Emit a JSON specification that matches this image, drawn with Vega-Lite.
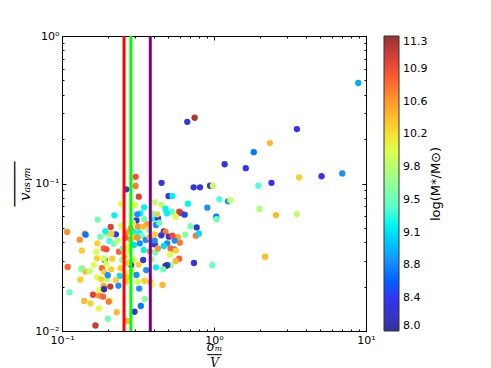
{
  "$schema": "https://vega.github.io/schema/vega-lite/v6.json",
  "width": 304,
  "height": 295,
  "autosize": "none",
  "padding": {"left": 62, "top": 36, "right": 125, "bottom": 37},
  "background": "white",
  "config": {
    "view": {"stroke": "black", "strokeWidth": 1},
    "axis": {"grid": false, "domainColor": "black", "tickColor": "black", "labelColor": "black", "titleColor": "black", "labelFont": "DejaVu Sans", "labelFontSize": 11, "labelOverlap": false, "labelFlush": false}
  },
  "datasets": {
    "pts": [
      {"ratio": 8.90, "vasym": 0.480, "logM": 8.9},
      {"ratio": 0.667, "vasym": 0.262, "logM": 8.3},
      {"ratio": 0.746, "vasym": 0.279, "logM": 11.2},
      {"ratio": 3.51, "vasym": 0.234, "logM": 8.4},
      {"ratio": 2.33, "vasym": 0.188, "logM": 10.4},
      {"ratio": 1.827, "vasym": 0.163, "logM": 8.7},
      {"ratio": 1.175, "vasym": 0.135, "logM": 8.3},
      {"ratio": 1.618, "vasym": 0.127, "logM": 8.4},
      {"ratio": 5.10, "vasym": 0.112, "logM": 8.4},
      {"ratio": 6.98, "vasym": 0.117, "logM": 8.8},
      {"ratio": 3.63, "vasym": 0.110, "logM": 10.3},
      {"ratio": 2.39, "vasym": 0.101, "logM": 8.4},
      {"ratio": 1.96, "vasym": 0.0966, "logM": 9.3},
      {"ratio": 0.452, "vasym": 0.101, "logM": 8.3},
      {"ratio": 0.735, "vasym": 0.0942, "logM": 8.3},
      {"ratio": 0.809, "vasym": 0.0942, "logM": 8.3},
      {"ratio": 0.942, "vasym": 0.0966, "logM": 8.1},
      {"ratio": 0.984, "vasym": 0.0966, "logM": 9.9},
      {"ratio": 0.305, "vasym": 0.111, "logM": 10.9},
      {"ratio": 0.305, "vasym": 0.0962, "logM": 10.7},
      {"ratio": 0.265, "vasym": 0.0913, "logM": 8.4},
      {"ratio": 0.320, "vasym": 0.0814, "logM": 11.0},
      {"ratio": 0.502, "vasym": 0.0822, "logM": 8.4},
      {"ratio": 0.533, "vasym": 0.0822, "logM": 9.2},
      {"ratio": 0.245, "vasym": 0.0730, "logM": 10.0},
      {"ratio": 0.301, "vasym": 0.0715, "logM": 10.1},
      {"ratio": 0.408, "vasym": 0.0745, "logM": 9.9},
      {"ratio": 0.452, "vasym": 0.0718, "logM": 9.9},
      {"ratio": 0.348, "vasym": 0.0689, "logM": 9.2},
      {"ratio": 0.480, "vasym": 0.0672, "logM": 9.2},
      {"ratio": 0.674, "vasym": 0.0730, "logM": 9.2},
      {"ratio": 1.084, "vasym": 0.0781, "logM": 9.3},
      {"ratio": 1.236, "vasym": 0.0757, "logM": 8.8},
      {"ratio": 1.282, "vasym": 0.0769, "logM": 9.9},
      {"ratio": 0.904, "vasym": 0.0686, "logM": 8.8},
      {"ratio": 0.590, "vasym": 0.0644, "logM": 10.9},
      {"ratio": 0.603, "vasym": 0.0631, "logM": 11.1},
      {"ratio": 0.641, "vasym": 0.0615, "logM": 8.5},
      {"ratio": 1.035, "vasym": 0.0596, "logM": 8.7},
      {"ratio": 1.04, "vasym": 0.0572, "logM": 9.5},
      {"ratio": 1.99, "vasym": 0.0672, "logM": 9.8},
      {"ratio": 2.56, "vasym": 0.0611, "logM": 10.4},
      {"ratio": 3.51, "vasym": 0.0621, "logM": 9.9},
      {"ratio": 2.17, "vasym": 0.0319, "logM": 10.4},
      {"ratio": 0.975, "vasym": 0.0279, "logM": 9.5},
      {"ratio": 0.738, "vasym": 0.0289, "logM": 8.3},
      {"ratio": 0.769, "vasym": 0.0504, "logM": 8.3},
      {"ratio": 0.760, "vasym": 0.0443, "logM": 10.7},
      {"ratio": 0.796, "vasym": 0.0457, "logM": 9.1},
      {"ratio": 0.702, "vasym": 0.0513, "logM": 9.5},
      {"ratio": 0.647, "vasym": 0.0450, "logM": 9.6},
      {"ratio": 0.597, "vasym": 0.0397, "logM": 10.7},
      {"ratio": 0.579, "vasym": 0.0432, "logM": 10.5},
      {"ratio": 0.547, "vasym": 0.0358, "logM": 8.8},
      {"ratio": 0.590, "vasym": 0.0309, "logM": 10.8},
      {"ratio": 0.561, "vasym": 0.0298, "logM": 10.4},
      {"ratio": 0.520, "vasym": 0.0280, "logM": 9.7},
      {"ratio": 0.492, "vasym": 0.0279, "logM": 8.3},
      {"ratio": 0.480, "vasym": 0.0276, "logM": 8.1},
      {"ratio": 0.463, "vasym": 0.0262, "logM": 9.5},
      {"ratio": 0.415, "vasym": 0.0270, "logM": 9.2},
      {"ratio": 0.459, "vasym": 0.0205, "logM": 10.4},
      {"ratio": 0.382, "vasym": 0.0215, "logM": 10.4},
      {"ratio": 0.390, "vasym": 0.0205, "logM": 10.0},
      {"ratio": 0.351, "vasym": 0.0165, "logM": 9.6},
      {"ratio": 0.330, "vasym": 0.0148, "logM": 8.7},
      {"ratio": 0.300, "vasym": 0.0135, "logM": 8.3},
      {"ratio": 0.271, "vasym": 0.0117, "logM": 10.4},
      {"ratio": 0.229, "vasym": 0.0134, "logM": 10.4},
      {"ratio": 0.200, "vasym": 0.0121, "logM": 9.5},
      {"ratio": 0.166, "vasym": 0.0109, "logM": 11.1},
      {"ratio": 0.175, "vasym": 0.0142, "logM": 10.1},
      {"ratio": 0.206, "vasym": 0.0161, "logM": 10.0},
      {"ratio": 0.140, "vasym": 0.0160, "logM": 10.4},
      {"ratio": 0.160, "vasym": 0.0176, "logM": 11.0},
      {"ratio": 0.175, "vasym": 0.0174, "logM": 10.6},
      {"ratio": 0.186, "vasym": 0.0171, "logM": 10.8},
      {"ratio": 0.176, "vasym": 0.0190, "logM": 10.0},
      {"ratio": 0.112, "vasym": 0.0183, "logM": 9.5},
      {"ratio": 0.109, "vasym": 0.0272, "logM": 10.8},
      {"ratio": 0.108, "vasym": 0.0469, "logM": 10.6},
      {"ratio": 0.131, "vasym": 0.0416, "logM": 10.6},
      {"ratio": 0.141, "vasym": 0.0457, "logM": 10.6},
      {"ratio": 0.143, "vasym": 0.0450, "logM": 8.7},
      {"ratio": 0.135, "vasym": 0.0351, "logM": 10.3},
      {"ratio": 0.134, "vasym": 0.0262, "logM": 9.8},
      {"ratio": 0.132, "vasym": 0.0223, "logM": 10.3},
      {"ratio": 0.1426, "vasym": 0.0253, "logM": 10.4},
      {"ratio": 0.172, "vasym": 0.0569, "logM": 9.5},
      {"ratio": 0.209, "vasym": 0.0507, "logM": 11.0},
      {"ratio": 0.221, "vasym": 0.0608, "logM": 9.2},
      {"ratio": 0.226, "vasym": 0.0452, "logM": 8.4},
      {"ratio": 0.245, "vasym": 0.0515, "logM": 10.0},
      {"ratio": 0.198, "vasym": 0.0455, "logM": 9.8},
      {"ratio": 0.211, "vasym": 0.0457, "logM": 10.3},
      {"ratio": 0.171, "vasym": 0.0393, "logM": 10.3},
      {"ratio": 0.188, "vasym": 0.0363, "logM": 10.8},
      {"ratio": 0.196, "vasym": 0.0358, "logM": 10.9},
      {"ratio": 0.205, "vasym": 0.0408, "logM": 9.3},
      {"ratio": 0.219, "vasym": 0.0391, "logM": 9.5},
      {"ratio": 0.168, "vasym": 0.0345, "logM": 10.0},
      {"ratio": 0.191, "vasym": 0.0303, "logM": 8.7},
      {"ratio": 0.170, "vasym": 0.0311, "logM": 10.3},
      {"ratio": 0.183, "vasym": 0.0267, "logM": 10.8},
      {"ratio": 0.196, "vasym": 0.0286, "logM": 10.0},
      {"ratio": 0.211, "vasym": 0.0262, "logM": 10.3},
      {"ratio": 0.170, "vasym": 0.0231, "logM": 10.0},
      {"ratio": 0.181, "vasym": 0.0225, "logM": 10.3},
      {"ratio": 0.188, "vasym": 0.0202, "logM": 10.5},
      {"ratio": 0.208, "vasym": 0.0200, "logM": 11.1},
      {"ratio": 0.189, "vasym": 0.0192, "logM": 8.1},
      {"ratio": 0.198, "vasym": 0.0224, "logM": 9.9},
      {"ratio": 0.235, "vasym": 0.0203, "logM": 8.8},
      {"ratio": 0.240, "vasym": 0.0236, "logM": 9.1},
      {"ratio": 0.243, "vasym": 0.0267, "logM": 10.3},
      {"ratio": 0.249, "vasym": 0.0303, "logM": 9.7},
      {"ratio": 0.237, "vasym": 0.0345, "logM": 10.8},
      {"ratio": 0.258, "vasym": 0.0319, "logM": 10.3},
      {"ratio": 0.271, "vasym": 0.0373, "logM": 10.0},
      {"ratio": 0.283, "vasym": 0.0418, "logM": 10.4},
      {"ratio": 0.294, "vasym": 0.0472, "logM": 9.2},
      {"ratio": 0.305, "vasym": 0.0436, "logM": 10.4},
      {"ratio": 0.316, "vasym": 0.0510, "logM": 10.6},
      {"ratio": 0.309, "vasym": 0.0562, "logM": 8.4},
      {"ratio": 0.328, "vasym": 0.0628, "logM": 9.2},
      {"ratio": 0.348, "vasym": 0.0572, "logM": 9.5},
      {"ratio": 0.313, "vasym": 0.0618, "logM": 8.8},
      {"ratio": 0.342, "vasym": 0.0510, "logM": 10.4},
      {"ratio": 0.363, "vasym": 0.0531, "logM": 10.5},
      {"ratio": 0.375, "vasym": 0.0484, "logM": 9.6},
      {"ratio": 0.394, "vasym": 0.0578, "logM": 9.2},
      {"ratio": 0.428, "vasym": 0.0581, "logM": 8.4},
      {"ratio": 0.415, "vasym": 0.0523, "logM": 8.8},
      {"ratio": 0.437, "vasym": 0.0542, "logM": 9.5},
      {"ratio": 0.468, "vasym": 0.0474, "logM": 8.0},
      {"ratio": 0.480, "vasym": 0.0469, "logM": 10.7},
      {"ratio": 0.450, "vasym": 0.0445, "logM": 8.3},
      {"ratio": 0.408, "vasym": 0.0452, "logM": 10.3},
      {"ratio": 0.394, "vasym": 0.0389, "logM": 8.8},
      {"ratio": 0.378, "vasym": 0.0347, "logM": 10.6},
      {"ratio": 0.410, "vasym": 0.0340, "logM": 9.5},
      {"ratio": 0.345, "vasym": 0.0354, "logM": 9.2},
      {"ratio": 0.325, "vasym": 0.0393, "logM": 8.8},
      {"ratio": 0.342, "vasym": 0.0303, "logM": 8.3},
      {"ratio": 0.319, "vasym": 0.0282, "logM": 10.3},
      {"ratio": 0.297, "vasym": 0.0303, "logM": 10.0},
      {"ratio": 0.285, "vasym": 0.0280, "logM": 8.4},
      {"ratio": 0.271, "vasym": 0.0288, "logM": 10.3},
      {"ratio": 0.258, "vasym": 0.0250, "logM": 10.0},
      {"ratio": 0.288, "vasym": 0.0253, "logM": 10.0},
      {"ratio": 0.316, "vasym": 0.0216, "logM": 10.0},
      {"ratio": 0.349, "vasym": 0.0219, "logM": 10.3},
      {"ratio": 0.322, "vasym": 0.0194, "logM": 8.8},
      {"ratio": 0.309, "vasym": 0.0240, "logM": 8.8},
      {"ratio": 0.272, "vasym": 0.0232, "logM": 10.3},
      {"ratio": 0.292, "vasym": 0.0542, "logM": 10.0},
      {"ratio": 0.265, "vasym": 0.0464, "logM": 10.6},
      {"ratio": 0.262, "vasym": 0.0428, "logM": 10.8},
      {"ratio": 0.283, "vasym": 0.0497, "logM": 10.6},
      {"ratio": 0.322, "vasym": 0.0464, "logM": 9.2},
      {"ratio": 0.335, "vasym": 0.0441, "logM": 9.5},
      {"ratio": 0.313, "vasym": 0.0428, "logM": 10.6},
      {"ratio": 0.356, "vasym": 0.0414, "logM": 8.8},
      {"ratio": 0.377, "vasym": 0.0432, "logM": 10.4},
      {"ratio": 0.297, "vasym": 0.0383, "logM": 9.1},
      {"ratio": 0.275, "vasym": 0.0349, "logM": 10.0},
      {"ratio": 0.251, "vasym": 0.0363, "logM": 9.5},
      {"ratio": 0.232, "vasym": 0.0410, "logM": 9.9},
      {"ratio": 0.188, "vasym": 0.0311, "logM": 10.0},
      {"ratio": 0.179, "vasym": 0.0436, "logM": 9.5},
      {"ratio": 0.193, "vasym": 0.0474, "logM": 9.2},
      {"ratio": 0.214, "vasym": 0.0309, "logM": 10.3},
      {"ratio": 0.162, "vasym": 0.0280, "logM": 10.0},
      {"ratio": 0.152, "vasym": 0.0254, "logM": 9.9},
      {"ratio": 0.135, "vasym": 0.0266, "logM": 9.6},
      {"ratio": 0.190, "vasym": 0.0251, "logM": 10.3},
      {"ratio": 0.200, "vasym": 0.0239, "logM": 8.8},
      {"ratio": 0.226, "vasym": 0.0222, "logM": 10.3},
      {"ratio": 0.263, "vasym": 0.0216, "logM": 10.3},
      {"ratio": 0.154, "vasym": 0.0154, "logM": 10.3},
      {"ratio": 0.203, "vasym": 0.0158, "logM": 10.7},
      {"ratio": 0.408, "vasym": 0.0387, "logM": 8.3},
      {"ratio": 0.358, "vasym": 0.0259, "logM": 8.8},
      {"ratio": 0.388, "vasym": 0.0306, "logM": 9.7},
      {"ratio": 0.505, "vasym": 0.0436, "logM": 8.3},
      {"ratio": 0.492, "vasym": 0.0393, "logM": 8.8},
      {"ratio": 0.551, "vasym": 0.0410, "logM": 8.8},
      {"ratio": 0.518, "vasym": 0.0363, "logM": 10.8},
      {"ratio": 0.561, "vasym": 0.0351, "logM": 10.3},
      {"ratio": 0.428, "vasym": 0.0363, "logM": 10.6},
      {"ratio": 0.407, "vasym": 0.0410, "logM": 8.8},
      {"ratio": 0.533, "vasym": 0.0443, "logM": 10.9},
      {"ratio": 0.468, "vasym": 0.0377, "logM": 9.1},
      {"ratio": 0.513, "vasym": 0.0330, "logM": 10.0},
      {"ratio": 0.531, "vasym": 0.0644, "logM": 9.5},
      {"ratio": 0.558, "vasym": 0.0596, "logM": 10.0},
      {"ratio": 0.490, "vasym": 0.0628, "logM": 9.2},
      {"ratio": 0.423, "vasym": 0.0618, "logM": 10.3},
      {"ratio": 0.394, "vasym": 0.0621, "logM": 9.5}
    ]
  },
  "layer": [
    {
      "data": {"name": "pts"},
      "mark": {"type": "circle", "size": 40, "opacity": 1},
      "encoding": {
        "x": {
          "field": "ratio", "type": "quantitative",
          "scale": {"type": "log", "domain": [0.1, 10], "nice": false},
          "axis": {
            "orient": "bottom",
            "values": [0.1,0.2,0.3,0.4,0.5,0.6,0.7,0.8,0.9,1,2,3,4,5,6,7,8,9,10],
            "labelExpr": "datum.value == 0.1 ? '10⁻¹' : datum.value == 1 ? '10⁰' : datum.value == 10 ? '10¹' : ''",
            "tickSize": {"condition": {"test": "datum.value == 0.1 || datum.value == 1 || datum.value == 10", "value": -4}, "value": -2},
            "labelPadding": 7,
            "title": ["σₘ", "──", "V"],
            "titleFont": "DejaVu Serif",
            "titleFontStyle": "italic",
            "titleFontWeight": "normal",
            "titleFontSize": 12,
            "titleLineHeight": 8,
            "titleBaseline": "top",
            "titleY": 10
          }
        },
        "y": {
          "field": "vasym", "type": "quantitative",
          "scale": {"type": "log", "domain": [0.01, 1], "nice": false},
          "axis": {
            "orient": "left",
            "values": [0.01,0.02,0.03,0.04,0.05,0.06,0.07,0.08,0.09,0.1,0.2,0.3,0.4,0.5,0.6,0.7,0.8,0.9,1],
            "labelExpr": "datum.value == 0.01 ? '10⁻²' : datum.value == 0.1 ? '10⁻¹' : datum.value == 1 ? '10⁰' : ''",
            "tickSize": {"condition": {"test": "datum.value == 0.01 || datum.value == 0.1 || datum.value == 1", "value": -4}, "value": -2},
            "labelPadding": 7,
            "title": ["─────", "vₐₛᵧₘ"],
            "titleFont": "DejaVu Serif",
            "titleFontStyle": "italic",
            "titleFontWeight": "normal",
            "titleFontSize": 15,
            "titleLineHeight": 10,
            "titlePadding": 2
          }
        },
        "color": {
          "field": "logM", "type": "quantitative",
          "scale": {
            "type": "linear",
            "domain": [8.04, 8.445, 8.85, 9.255, 9.66, 10.065, 10.47, 10.875, 11.28],
            "range": ["#333399", "#3333ff", "#3399ff", "#44ffe8", "#95ff95", "#e8ff44", "#ffac33", "#ff4d33", "#993333"],
            "clamp": true
          },
          "legend": {
            "orient": "none",
            "legendX": 322,
            "legendY": 0,
            "direction": "vertical",
            "gradientLength": 295,
            "gradientThickness": 15,
            "gradientStrokeColor": "#333333",
            "gradientStrokeWidth": 1,
            "values": [8.04, 8.4, 8.76, 9.12, 9.48, 9.84, 10.2, 10.56, 10.92, 11.28],
            "format": ".1f",
            "labelFont": "DejaVu Sans",
            "labelFontSize": 11,
            "labelColor": "black",
            "labelOffset": 4,
            "labelBaseline": "middle",
            "labelOverlap": false,
            "title": null
          }
        }
      }
    },
    {
      "data": {"values": [{"ratio": 0.256}]},
      "mark": {"type": "rule", "color": "#ff0000", "strokeWidth": 3},
      "encoding": {"x": {"field": "ratio", "type": "quantitative", "axis": null}}
    },
    {
      "data": {"values": [{"ratio": 0.284}]},
      "mark": {"type": "rule", "color": "#00ff00", "strokeWidth": 3},
      "encoding": {"x": {"field": "ratio", "type": "quantitative", "axis": null}}
    },
    {
      "data": {"values": [{"ratio": 0.381}]},
      "mark": {"type": "rule", "color": "#800080", "strokeWidth": 3},
      "encoding": {"x": {"field": "ratio", "type": "quantitative", "axis": null}}
    },
    {
      "data": {"name": "pts"},
      "mark": {"type": "circle", "opacity": 0},
      "encoding": {
        "x": {
          "field": "ratio", "type": "quantitative",
          "axis": {
            "orient": "top", "labels": false, "title": null,
            "values": [0.1,0.2,0.3,0.4,0.5,0.6,0.7,0.8,0.9,1,2,3,4,5,6,7,8,9,10],
            "tickSize": {"condition": {"test": "datum.value == 0.1 || datum.value == 1 || datum.value == 10", "value": -4}, "value": -2}
          }
        },
        "y": {
          "field": "vasym", "type": "quantitative",
          "axis": {
            "orient": "right", "labels": false,
            "values": [0.01,0.02,0.03,0.04,0.05,0.06,0.07,0.08,0.09,0.1,0.2,0.3,0.4,0.5,0.6,0.7,0.8,0.9,1],
            "tickSize": {"condition": {"test": "datum.value == 0.01 || datum.value == 0.1 || datum.value == 1", "value": -4}, "value": -2},
            "title": "log(M*/M⊙)",
            "titleFont": "DejaVu Sans",
            "titleFontSize": 13,
            "titleFontWeight": "normal",
            "titleColor": "black",
            "titleAngle": 270,
            "titleAlign": "center",
            "titleBaseline": "middle",
            "titleX": 69,
            "titleY": 147.5
          }
        }
      }
    }
  ],
  "resolve": {"axis": {"x": "independent", "y": "independent"}}
}
